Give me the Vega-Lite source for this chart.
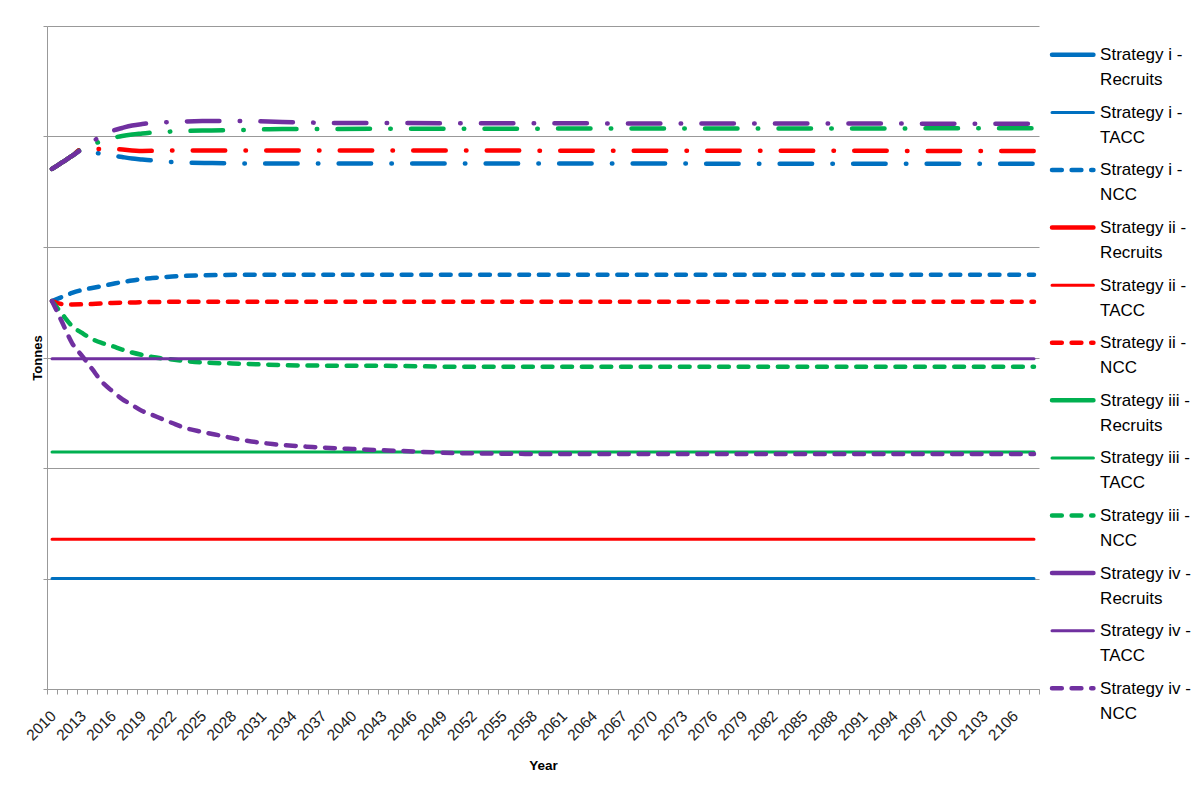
{
  "$schema": "https://vega.github.io/schema/vega-lite/v6.json",
  "background": "white",
  "padding": {"left": 23, "top": 25, "right": 0, "bottom": 0},
  "spacing": 4,
  "config": {"view": {"stroke": null}, "font": "Liberation Sans"},
  "datasets": {
    "series": [
      {"strategy": "i", "measure": "Recruits", "year": 2010, "tonnes": 4.706},
      {"strategy": "i", "measure": "Recruits", "year": 2011, "tonnes": 4.765},
      {"strategy": "i", "measure": "Recruits", "year": 2012, "tonnes": 4.824},
      {"strategy": "i", "measure": "Recruits", "year": 2013, "tonnes": 4.887},
      {"strategy": "i", "measure": "Recruits", "year": 2014, "tonnes": 4.860},
      {"strategy": "i", "measure": "Recruits", "year": 2015, "tonnes": 4.842},
      {"strategy": "i", "measure": "Recruits", "year": 2016, "tonnes": 4.828},
      {"strategy": "i", "measure": "Recruits", "year": 2017, "tonnes": 4.814},
      {"strategy": "i", "measure": "Recruits", "year": 2018, "tonnes": 4.801},
      {"strategy": "i", "measure": "Recruits", "year": 2019, "tonnes": 4.792},
      {"strategy": "i", "measure": "Recruits", "year": 2020, "tonnes": 4.783},
      {"strategy": "i", "measure": "Recruits", "year": 2021, "tonnes": 4.774},
      {"strategy": "i", "measure": "Recruits", "year": 2023, "tonnes": 4.765},
      {"strategy": "i", "measure": "Recruits", "year": 2026, "tonnes": 4.760},
      {"strategy": "i", "measure": "Recruits", "year": 2030, "tonnes": 4.756},
      {"strategy": "i", "measure": "Recruits", "year": 2108, "tonnes": 4.754},
      {"strategy": "i", "measure": "TACC", "year": 2010, "tonnes": 1.0},
      {"strategy": "i", "measure": "TACC", "year": 2108, "tonnes": 1.0},
      {"strategy": "i", "measure": "NCC", "year": 2010, "tonnes": 3.511},
      {"strategy": "i", "measure": "NCC", "year": 2011, "tonnes": 3.548},
      {"strategy": "i", "measure": "NCC", "year": 2012, "tonnes": 3.584},
      {"strategy": "i", "measure": "NCC", "year": 2013, "tonnes": 3.611},
      {"strategy": "i", "measure": "NCC", "year": 2014, "tonnes": 3.629},
      {"strategy": "i", "measure": "NCC", "year": 2015, "tonnes": 3.647},
      {"strategy": "i", "measure": "NCC", "year": 2016, "tonnes": 3.665},
      {"strategy": "i", "measure": "NCC", "year": 2017, "tonnes": 3.683},
      {"strategy": "i", "measure": "NCC", "year": 2018, "tonnes": 3.697},
      {"strategy": "i", "measure": "NCC", "year": 2019, "tonnes": 3.710},
      {"strategy": "i", "measure": "NCC", "year": 2020, "tonnes": 3.719},
      {"strategy": "i", "measure": "NCC", "year": 2022, "tonnes": 3.733},
      {"strategy": "i", "measure": "NCC", "year": 2025, "tonnes": 3.743},
      {"strategy": "i", "measure": "NCC", "year": 2030, "tonnes": 3.749},
      {"strategy": "i", "measure": "NCC", "year": 2108, "tonnes": 3.749},
      {"strategy": "ii", "measure": "Recruits", "year": 2010, "tonnes": 4.706},
      {"strategy": "ii", "measure": "Recruits", "year": 2011, "tonnes": 4.765},
      {"strategy": "ii", "measure": "Recruits", "year": 2012, "tonnes": 4.824},
      {"strategy": "ii", "measure": "Recruits", "year": 2013, "tonnes": 4.887},
      {"strategy": "ii", "measure": "Recruits", "year": 2014, "tonnes": 4.887},
      {"strategy": "ii", "measure": "Recruits", "year": 2016, "tonnes": 4.887},
      {"strategy": "ii", "measure": "Recruits", "year": 2019, "tonnes": 4.869},
      {"strategy": "ii", "measure": "Recruits", "year": 2022, "tonnes": 4.873},
      {"strategy": "ii", "measure": "Recruits", "year": 2025, "tonnes": 4.873},
      {"strategy": "ii", "measure": "Recruits", "year": 2108, "tonnes": 4.869},
      {"strategy": "ii", "measure": "TACC", "year": 2010, "tonnes": 1.355},
      {"strategy": "ii", "measure": "TACC", "year": 2108, "tonnes": 1.355},
      {"strategy": "ii", "measure": "NCC", "year": 2010, "tonnes": 3.511},
      {"strategy": "ii", "measure": "NCC", "year": 2011, "tonnes": 3.484},
      {"strategy": "ii", "measure": "NCC", "year": 2012, "tonnes": 3.480},
      {"strategy": "ii", "measure": "NCC", "year": 2014, "tonnes": 3.484},
      {"strategy": "ii", "measure": "NCC", "year": 2016, "tonnes": 3.493},
      {"strategy": "ii", "measure": "NCC", "year": 2018, "tonnes": 3.498},
      {"strategy": "ii", "measure": "NCC", "year": 2020, "tonnes": 3.502},
      {"strategy": "ii", "measure": "NCC", "year": 2025, "tonnes": 3.505},
      {"strategy": "ii", "measure": "NCC", "year": 2108, "tonnes": 3.505},
      {"strategy": "iii", "measure": "Recruits", "year": 2010, "tonnes": 4.706},
      {"strategy": "iii", "measure": "Recruits", "year": 2011, "tonnes": 4.765},
      {"strategy": "iii", "measure": "Recruits", "year": 2012, "tonnes": 4.824},
      {"strategy": "iii", "measure": "Recruits", "year": 2013, "tonnes": 4.887},
      {"strategy": "iii", "measure": "Recruits", "year": 2014, "tonnes": 4.928},
      {"strategy": "iii", "measure": "Recruits", "year": 2015, "tonnes": 4.959},
      {"strategy": "iii", "measure": "Recruits", "year": 2016, "tonnes": 4.986},
      {"strategy": "iii", "measure": "Recruits", "year": 2017, "tonnes": 5.005},
      {"strategy": "iii", "measure": "Recruits", "year": 2018, "tonnes": 5.018},
      {"strategy": "iii", "measure": "Recruits", "year": 2019, "tonnes": 5.027},
      {"strategy": "iii", "measure": "Recruits", "year": 2020, "tonnes": 5.036},
      {"strategy": "iii", "measure": "Recruits", "year": 2022, "tonnes": 5.045},
      {"strategy": "iii", "measure": "Recruits", "year": 2025, "tonnes": 5.054},
      {"strategy": "iii", "measure": "Recruits", "year": 2029, "tonnes": 5.059},
      {"strategy": "iii", "measure": "Recruits", "year": 2033, "tonnes": 5.068},
      {"strategy": "iii", "measure": "Recruits", "year": 2108, "tonnes": 5.074},
      {"strategy": "iii", "measure": "TACC", "year": 2010, "tonnes": 2.145},
      {"strategy": "iii", "measure": "TACC", "year": 2108, "tonnes": 2.145},
      {"strategy": "iii", "measure": "NCC", "year": 2010, "tonnes": 3.511},
      {"strategy": "iii", "measure": "NCC", "year": 2011, "tonnes": 3.394},
      {"strategy": "iii", "measure": "NCC", "year": 2012, "tonnes": 3.285},
      {"strategy": "iii", "measure": "NCC", "year": 2013, "tonnes": 3.222},
      {"strategy": "iii", "measure": "NCC", "year": 2014, "tonnes": 3.167},
      {"strategy": "iii", "measure": "NCC", "year": 2015, "tonnes": 3.131},
      {"strategy": "iii", "measure": "NCC", "year": 2016, "tonnes": 3.104},
      {"strategy": "iii", "measure": "NCC", "year": 2017, "tonnes": 3.072},
      {"strategy": "iii", "measure": "NCC", "year": 2018, "tonnes": 3.045},
      {"strategy": "iii", "measure": "NCC", "year": 2019, "tonnes": 3.023},
      {"strategy": "iii", "measure": "NCC", "year": 2020, "tonnes": 3.005},
      {"strategy": "iii", "measure": "NCC", "year": 2022, "tonnes": 2.982},
      {"strategy": "iii", "measure": "NCC", "year": 2025, "tonnes": 2.955},
      {"strategy": "iii", "measure": "NCC", "year": 2028, "tonnes": 2.946},
      {"strategy": "iii", "measure": "NCC", "year": 2031, "tonnes": 2.937},
      {"strategy": "iii", "measure": "NCC", "year": 2035, "tonnes": 2.928},
      {"strategy": "iii", "measure": "NCC", "year": 2045, "tonnes": 2.923},
      {"strategy": "iii", "measure": "NCC", "year": 2050, "tonnes": 2.917},
      {"strategy": "iii", "measure": "NCC", "year": 2108, "tonnes": 2.917},
      {"strategy": "iv", "measure": "Recruits", "year": 2010, "tonnes": 4.706},
      {"strategy": "iv", "measure": "Recruits", "year": 2011, "tonnes": 4.765},
      {"strategy": "iv", "measure": "Recruits", "year": 2012, "tonnes": 4.824},
      {"strategy": "iv", "measure": "Recruits", "year": 2013, "tonnes": 4.887},
      {"strategy": "iv", "measure": "Recruits", "year": 2014, "tonnes": 4.950},
      {"strategy": "iv", "measure": "Recruits", "year": 2015, "tonnes": 5.009},
      {"strategy": "iv", "measure": "Recruits", "year": 2016, "tonnes": 5.050},
      {"strategy": "iv", "measure": "Recruits", "year": 2017, "tonnes": 5.077},
      {"strategy": "iv", "measure": "Recruits", "year": 2018, "tonnes": 5.100},
      {"strategy": "iv", "measure": "Recruits", "year": 2019, "tonnes": 5.113},
      {"strategy": "iv", "measure": "Recruits", "year": 2020, "tonnes": 5.122},
      {"strategy": "iv", "measure": "Recruits", "year": 2022, "tonnes": 5.131},
      {"strategy": "iv", "measure": "Recruits", "year": 2025, "tonnes": 5.140},
      {"strategy": "iv", "measure": "Recruits", "year": 2029, "tonnes": 5.140},
      {"strategy": "iv", "measure": "Recruits", "year": 2033, "tonnes": 5.131},
      {"strategy": "iv", "measure": "Recruits", "year": 2040, "tonnes": 5.122},
      {"strategy": "iv", "measure": "Recruits", "year": 2108, "tonnes": 5.116},
      {"strategy": "iv", "measure": "TACC", "year": 2010, "tonnes": 2.989},
      {"strategy": "iv", "measure": "TACC", "year": 2108, "tonnes": 2.989},
      {"strategy": "iv", "measure": "NCC", "year": 2010, "tonnes": 3.511},
      {"strategy": "iv", "measure": "NCC", "year": 2011, "tonnes": 3.321},
      {"strategy": "iv", "measure": "NCC", "year": 2012, "tonnes": 3.131},
      {"strategy": "iv", "measure": "NCC", "year": 2013, "tonnes": 3.014},
      {"strategy": "iv", "measure": "NCC", "year": 2014, "tonnes": 2.896},
      {"strategy": "iv", "measure": "NCC", "year": 2015, "tonnes": 2.778},
      {"strategy": "iv", "measure": "NCC", "year": 2016, "tonnes": 2.697},
      {"strategy": "iv", "measure": "NCC", "year": 2017, "tonnes": 2.624},
      {"strategy": "iv", "measure": "NCC", "year": 2018, "tonnes": 2.570},
      {"strategy": "iv", "measure": "NCC", "year": 2019, "tonnes": 2.516},
      {"strategy": "iv", "measure": "NCC", "year": 2020, "tonnes": 2.480},
      {"strategy": "iv", "measure": "NCC", "year": 2021, "tonnes": 2.443},
      {"strategy": "iv", "measure": "NCC", "year": 2022, "tonnes": 2.407},
      {"strategy": "iv", "measure": "NCC", "year": 2023, "tonnes": 2.371},
      {"strategy": "iv", "measure": "NCC", "year": 2025, "tonnes": 2.326},
      {"strategy": "iv", "measure": "NCC", "year": 2027, "tonnes": 2.290},
      {"strategy": "iv", "measure": "NCC", "year": 2029, "tonnes": 2.253},
      {"strategy": "iv", "measure": "NCC", "year": 2032, "tonnes": 2.217},
      {"strategy": "iv", "measure": "NCC", "year": 2036, "tonnes": 2.190},
      {"strategy": "iv", "measure": "NCC", "year": 2040, "tonnes": 2.172},
      {"strategy": "iv", "measure": "NCC", "year": 2045, "tonnes": 2.154},
      {"strategy": "iv", "measure": "NCC", "year": 2050, "tonnes": 2.136},
      {"strategy": "iv", "measure": "NCC", "year": 2060, "tonnes": 2.127},
      {"strategy": "iv", "measure": "NCC", "year": 2108, "tonnes": 2.127}
    ],
    "legend": [
      {"strategy": "i", "measure": "Recruits", "label": "Strategy i -\nRecruits"},
      {"strategy": "i", "measure": "TACC", "label": "Strategy i -\nTACC"},
      {"strategy": "i", "measure": "NCC", "label": "Strategy i -\nNCC"},
      {"strategy": "ii", "measure": "Recruits", "label": "Strategy ii -\nRecruits"},
      {"strategy": "ii", "measure": "TACC", "label": "Strategy ii -\nTACC"},
      {"strategy": "ii", "measure": "NCC", "label": "Strategy ii -\nNCC"},
      {"strategy": "iii", "measure": "Recruits", "label": "Strategy iii -\nRecruits"},
      {"strategy": "iii", "measure": "TACC", "label": "Strategy iii -\nTACC"},
      {"strategy": "iii", "measure": "NCC", "label": "Strategy iii -\nNCC"},
      {"strategy": "iv", "measure": "Recruits", "label": "Strategy iv -\nRecruits"},
      {"strategy": "iv", "measure": "TACC", "label": "Strategy iv -\nTACC"},
      {"strategy": "iv", "measure": "NCC", "label": "Strategy iv -\nNCC"}
    ]
  },
  "hconcat": [
    {
      "width": 992,
      "height": 663,
      "data": {"name": "series"},
      "mark": {"type": "line", "interpolate": "monotone", "strokeCap": "round"},
      "encoding": {
        "x": {
          "field": "year", "type": "quantitative",
          "scale": {"domain": [2009.5, 2108.5], "nice": false, "zero": false},
          "axis": {
            "title": "Year",
            "values": [2009.5,2010.5,2011.5,2012.5,2013.5,2014.5,2015.5,2016.5,2017.5,2018.5,2019.5,2020.5,2021.5,2022.5,2023.5,2024.5,2025.5,2026.5,2027.5,2028.5,2029.5,2030.5,2031.5,2032.5,2033.5,2034.5,2035.5,2036.5,2037.5,2038.5,2039.5,2040.5,2041.5,2042.5,2043.5,2044.5,2045.5,2046.5,2047.5,2048.5,2049.5,2050.5,2051.5,2052.5,2053.5,2054.5,2055.5,2056.5,2057.5,2058.5,2059.5,2060.5,2061.5,2062.5,2063.5,2064.5,2065.5,2066.5,2067.5,2068.5,2069.5,2070.5,2071.5,2072.5,2073.5,2074.5,2075.5,2076.5,2077.5,2078.5,2079.5,2080.5,2081.5,2082.5,2083.5,2084.5,2085.5,2086.5,2087.5,2088.5,2089.5,2090.5,2091.5,2092.5,2093.5,2094.5,2095.5,2096.5,2097.5,2098.5,2099.5,2100.5,2101.5,2102.5,2103.5,2104.5,2105.5,2106.5,2107.5,2108.5],
            "labelExpr": "datum.value < 2107 && (datum.value + 0.5 - 2010) % 3 == 0 ? format(datum.value + 0.5, 'd') : ''",
            "labelFontSize": {"condition": {"test": "datum.value < 2107 && (datum.value + 0.5 - 2010) % 3 == 0", "value": 15.5}, "value": 0},
            "labelAngle": -45, "labelAlign": "right", "labelBaseline": "middle",
            "labelOffset": 6, "labelPadding": 19,
            "labelOverlap": false, "labelBound": false, "labelFlush": false,
            "labelColor": "#222",
            "tickSize": 5, "tickColor": "#999", "domainColor": "#999", "grid": false,
            "titleFontSize": 13.5, "titleFontWeight": "bold", "titleColor": "#000", "titlePadding": 15
          }
        },
        "y": {
          "field": "tonnes", "type": "quantitative",
          "scale": {"domain": [0, 6], "nice": false},
          "axis": {
            "title": "Tonnes", "values": [0, 1, 2, 3, 4, 5, 6], "labels": false,
            "tickSize": 4, "tickColor": "#999", "domainColor": "#999",
            "grid": true, "gridColor": "#999", "gridWidth": 1,
            "titleFontSize": 13, "titleFontWeight": "bold", "titleColor": "#000", "titlePadding": -2
          }
        },
        "color": {
          "field": "strategy", "type": "nominal",
          "scale": {"domain": ["i", "ii", "iii", "iv"], "range": ["#0070C0", "#FF0000", "#00B050", "#7030A0"]},
          "legend": null
        },
        "strokeDash": {
          "field": "measure", "type": "nominal",
          "scale": {"domain": ["Recruits", "TACC", "NCC"], "range": [[32.5, 20.25, 0.5, 20.25], [1, 0], [9.8, 9.8]]},
          "legend": null
        },
        "strokeWidth": {
          "field": "measure", "type": "nominal",
          "scale": {"type": "ordinal", "domain": ["Recruits", "TACC", "NCC"], "range": [4.5, 3, 4.5]},
          "legend": null
        }
      }
    },
    {
      "width": 148,
      "height": 691,
      "data": {"name": "legend"},
      "layer": [
        {
          "mark": {"type": "rule", "strokeCap": "round"},
          "encoding": {
            "x": {"datum": 0, "type": "quantitative", "scale": {"domain": [0, 1], "nice": false, "zero": false}, "axis": null},
            "x2": {"datum": 0.28},
            "y": {"field": "label", "type": "nominal", "sort": null, "scale": {"paddingInner": 0, "paddingOuter": 0}, "axis": null},
            "color": {
              "field": "strategy", "type": "nominal",
              "scale": {"domain": ["i", "ii", "iii", "iv"], "range": ["#0070C0", "#FF0000", "#00B050", "#7030A0"]},
              "legend": null
            },
            "strokeDash": {
              "field": "measure", "type": "nominal",
              "scale": {"domain": ["Recruits", "TACC", "NCC"], "range": [[1, 0], [1, 0], [9.8, 9.8]]},
              "legend": null
            },
            "strokeWidth": {
              "field": "measure", "type": "nominal",
              "scale": {"type": "ordinal", "domain": ["Recruits", "TACC", "NCC"], "range": [4.5, 3, 4.5]},
              "legend": null
            }
          }
        },
        {
          "mark": {"type": "text", "align": "left", "baseline": "alphabetic", "dy": 5.5, "lineBreak": "\n", "lineHeight": 25, "fontSize": 17, "font": "Liberation Sans", "color": "#000"},
          "encoding": {
            "x": {"datum": 0.325, "type": "quantitative"},
            "y": {"field": "label", "type": "nominal", "sort": null},
            "text": {"field": "label"}
          }
        }
      ]
    }
  ],
  "resolve": {"scale": {"color": "independent", "strokeDash": "independent", "strokeWidth": "independent", "x": "independent", "y": "independent"}}
}
